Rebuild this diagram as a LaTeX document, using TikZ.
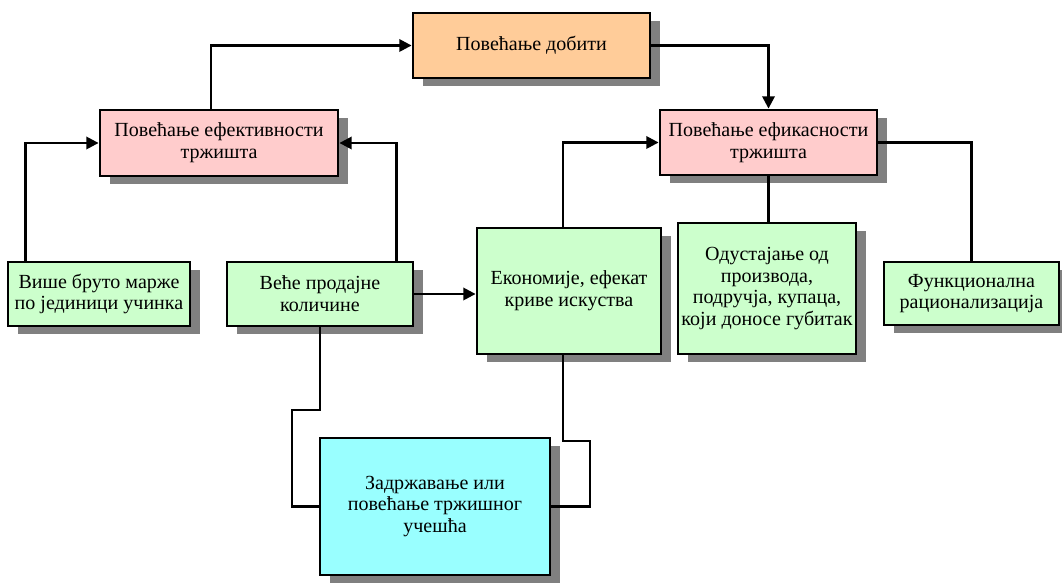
\documentclass[tikz,border=0pt]{standalone}
\usepackage{fontspec}
\setmainfont{Liberation Serif}
\usetikzlibrary{shadows,arrows.meta}
\definecolor{profitfill}{RGB}{255,204,153}
\definecolor{marketfill}{RGB}{255,204,204}
\definecolor{actionfill}{RGB}{204,255,204}
\definecolor{sharefill}{RGB}{153,255,255}
\definecolor{shadowgray}{RGB}{128,128,128}
\tikzstyle{block} = [draw=black, line width=1.6pt, align=center, inner sep=2pt,
    font=\fontsize{11.4}{12.4}\selectfont,
    drop shadow={shadow xshift=0.2cm, shadow yshift=-0.17cm, fill=shadowgray, opacity=1}]
\tikzstyle{link} = [line width=1.4pt]
\tikzstyle{arr} = [link, -{Triangle[length=7pt,width=7pt]}]

\begin{document}
\begin{tikzpicture}
            \useasboundingbox (0,0) rectangle (21.24,-11.76);

            \node[block, fill=profitfill, minimum width=4.74cm, minimum height=1.30cm] (profit) at (10.63,-0.91) {Повећање добити};
            \node[block, fill=marketfill, minimum width=4.76cm, minimum height=1.32cm] (effect) at (4.38,-2.86) {Повећање ефективности\\тржишта};
            \node[block, fill=marketfill, minimum width=4.34cm, minimum height=1.30cm] (effic) at (15.37,-2.85) {Повећање ефикасности\\тржишта};

            \node[block, fill=actionfill, minimum width=3.64cm, minimum height=1.28cm] (margin) at (1.98,-5.88) {Више бруто марже\\по јединици учинка};
            \node[block, fill=actionfill, minimum width=3.72cm, minimum height=1.28cm] (volume) at (6.40,-5.88) {Веће продајне\\количине};
            \node[block, fill=actionfill, minimum width=3.68cm, minimum height=2.52cm] (econ) at (11.38,-5.82) {Економије, ефекат\\криве искуства};
            \node[block, fill=actionfill, minimum width=3.56cm, minimum height=2.62cm] (exit) at (15.34,-5.77) {Одустајање од\\производа,\\подручја, купаца,\\који доносе губитак};
            \node[block, fill=actionfill, minimum width=3.50cm, minimum height=1.26cm] (func) at (19.43,-5.87) {Функционална\\рационализација};

            \node[block, fill=sharefill, minimum width=4.60cm, minimum height=2.74cm] (share) at (8.70,-10.13) {Задржавање или\\повећање тржишног\\учешћа};

            \coordinate (lbend) at (5.84,-8.20);
            \coordinate (rbend) at (11.80,-8.82);

            \draw[arr] ([xshift=-0.16cm]effect.north) |- (profit.west);
            \draw[arr] (profit.east) -| (effic.north);
            \draw[arr] ([xshift=0.38cm]margin.north west) |- (effect.west);
            \draw[arr] ([xshift=-0.36cm]volume.north east) |- (effect.east);
            \draw[arr] (volume.east) -- (volume.east -| econ.west);
            \draw[arr] ([xshift=-0.12cm]econ.north) |- (effic.west);
            \draw[link] (effic.south) -- (effic.south |- exit.north);
            \draw[link] (effic.east) -| (func.north);

            % market share loops
            \draw[link] (volume.south) |- (lbend) |- (share.west);
            \draw[link] ([xshift=-0.12cm]econ.south) |- (rbend) |- (share.east);
        \end{tikzpicture}
\end{document}
